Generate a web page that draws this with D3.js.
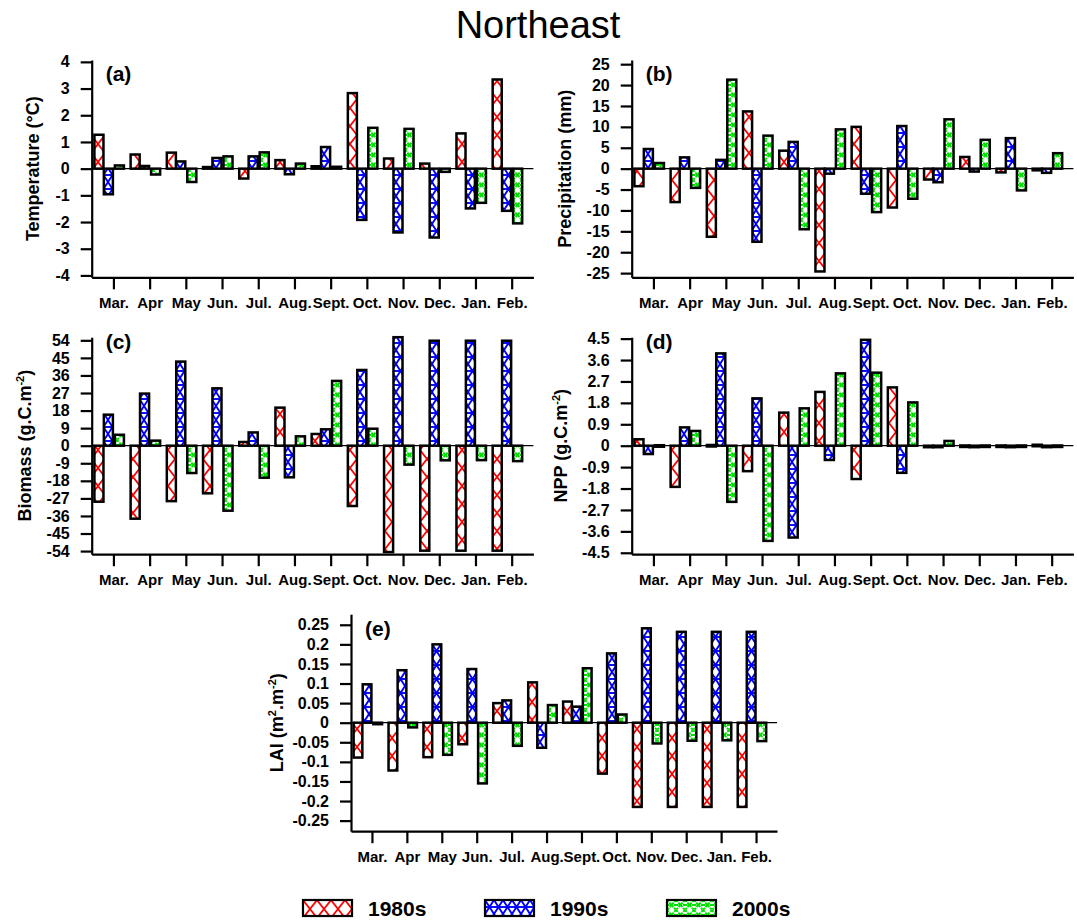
<!DOCTYPE html>
<html>
<head>
<meta charset="utf-8">
<script src="https://cdn.jsdelivr.net/npm/d3@7"></script>
<style>
  body { margin: 0; background: #fff; }
  svg { display: block; }
  text { font-family: "Liberation Sans", Arial, Helvetica, sans-serif; }
</style>
</head>
<body>
<svg id="chart" width="1077" height="921"></svg>
<script>
// month categories and decades
var months = ["Mar.", "Apr", "May", "Jun.", "Jul.", "Aug.", "Sept.", "Oct.", "Nov.", "Dec.", "Jan.", "Feb."];
var decades = ["1980s", "1990s", "2000s"];

// (a) temperature anomaly (°C)
var temp1980s = [1.27, 0.53, 0.6, 0.06, -0.37, 0.32, 0.09, 2.83, 0.38, 0.19, 1.32, 3.34];
var temp1990s = [-0.96, 0.1, 0.27, 0.4, 0.46, -0.21, 0.81, -1.92, -2.39, -2.58, -1.49, -1.58];
var temp2000s = [0.12, -0.22, -0.5, 0.46, 0.61, 0.19, 0.07, 1.53, 1.49, -0.12, -1.28, -2.05];

// (b) precipitation (mm)
var prec1980s = [-4.2, -8.0, -16.3, 13.7, 4.3, -24.6, 10.0, -9.3, -2.6, 2.8, -0.9, -0.4];
var prec1990s = [4.7, 2.7, 2.1, -17.5, 6.4, -1.2, -6.0, 10.2, -3.25, -0.7, 7.3, -1.0];
var prec2000s = [1.35, -4.6, 21.3, 7.9, -14.5, 9.4, -10.4, -7.2, 11.8, 6.9, -5.2, 3.7];

// (c) biomass (g.C.m-2)
var bio1980s = [-28.7, -37.4, -28.4, -24.4, 1.9, 19.5, 6.0, -30.9, -54.5, -53.8, -53.8, -53.8];
var bio1990s = [15.9, 26.7, 43.1, 29.4, 6.8, -16.2, 8.4, 38.8, 55.6, 53.8, 53.8, 53.8];
var bio2000s = [5.6, 2.6, -14.0, -33.3, -16.4, 4.8, 33.2, 8.7, -9.7, -7.5, -7.4, -7.9];

// (d) NPP (g.C.m-2)
var npp1980s = [0.27, -1.73, 0.03, -1.07, 1.39, 2.26, -1.4, 2.45, -0.01, 0.01, 0.01, 0.04];
var npp1990s = [-0.35, 0.77, 3.88, 1.99, -3.86, -0.6, 4.45, -1.14, -0.04, -0.01, -0.01, -0.02];
var npp2000s = [0.02, 0.62, -2.36, -4.0, 1.57, 3.04, 3.07, 1.82, 0.2, 0.01, 0.01, 0.01];

// (e) LAI (m2.m-2)
var lai1980s = [-0.089, -0.122, -0.088, -0.055, 0.05, 0.103, 0.054, -0.13, -0.215, -0.215, -0.215, -0.215];
var lai1990s = [0.098, 0.134, 0.2, 0.137, 0.057, -0.064, 0.041, 0.177, 0.241, 0.232, 0.232, 0.232];
var lai2000s = [-0.002, -0.012, -0.082, -0.155, -0.059, 0.045, 0.139, 0.021, -0.053, -0.046, -0.045, -0.047];

// tick labels
var tempTicks = [4, 3, 2, 1, 0, -1, -2, -3, -4];
var precTicks = [25, 20, 15, 10, 5, 0, -5, -10, -15, -20, -25];
var bioTicks = [54, 45, 36, 27, 18, 9, 0, -9, -18, -27, -36, -45, -54];
var nppTicks = [4.5, 3.6, 2.7, 1.8, 0.9, 0, -0.9, -1.8, -2.7, -3.6, -4.5];
var laiTicks = [0.25, 0.2, 0.15, 0.1, 0.05, 0, -0.05, -0.1, -0.15, -0.2, -0.25];

var svg = d3.select("#chart");
var defs = svg.append("defs");

// hatch patterns, one per decade
function addPattern(id, w, h, color, sw, paths, dash) {
    var p = defs.append("pattern")
        .attr("id", id)
        .attr("patternUnits", "userSpaceOnUse")
        .attr("width", w)
        .attr("height", h);
    p.append("rect").attr("width", w).attr("height", h).attr("fill", "#fff");
    paths.forEach(function (d) {
        p.append("path")
            .attr("d", d)
            .attr("stroke", color)
            .attr("stroke-width", sw)
            .attr("fill", "none")
            .attr("stroke-dasharray", dash || null);
    });
}
addPattern("pat0", 14, 18, "#ff0000", 1.7, ["M0,0L14,18M14,0L0,18"]);
addPattern("pat1", 9, 14, "#0000ff", 1.9, ["M0,0L9,14M9,0L0,14", "M0,7H9"]);
addPattern("pat2", 9, 10, "#00e000", 2, ["M0,0L9,10M9,0L0,10", "M0,5H9"], "2.5 1");
var patFill = ["url(#pat0)", "url(#pat1)", "url(#pat2)"];

svg.append("text")
    .attr("x", 538)
    .attr("y", 38)
    .attr("text-anchor", "middle")
    .attr("font-size", 38)
    .text("Northeast");

var panels = [
    { tag: "(a)", title: "Temperature (°C)", sup: null, data: [temp1980s, temp1990s, temp2000s], ticks: tempTicks, ymax: 4.07,
      left: 91.7, right: 533.4, top: 60, bottom: 277.3, titleOff: 53, tagY: 81 },
    { tag: "(b)", title: "Precipitation (mm)", sup: null, data: [prec1980s, prec1990s, prec2000s], ticks: precTicks, ymax: 26,
      left: 631.7, right: 1073.4, top: 60, bottom: 277.3, titleOff: 61, tagY: 81 },
    { tag: "(c)", title: "Biomass (g.C.m", sup: "-2", data: [bio1980s, bio1990s, bio2000s], ticks: bioTicks, ymax: 55.6,
      left: 91.7, right: 533.4, top: 337.2, bottom: 554.2, titleOff: 61, tagY: 349 },
    { tag: "(d)", title: "NPP (g.C.m", sup: "-2", data: [npp1980s, npp1990s, npp2000s], ticks: nppTicks, ymax: 4.56,
      left: 631.7, right: 1073.4, top: 337.2, bottom: 554.2, titleOff: 65, tagY: 349 },
    { tag: "(e)", title: "LAI (m", sup: "2", mid: ".m", sup2: "-2", data: [lai1980s, lai1990s, lai2000s], ticks: laiTicks, ymax: 0.277,
      left: 351, right: 777, top: 614.2, bottom: 831.2, titleOff: 68, tagY: 636 }
];

var offsets = [-0.4, -0.14, 0.165];
var barW = 0.25;

panels.forEach(function (cfg) {
    var x = d3.scaleLinear().domain([-0.6, 11.6]).range([cfg.left, cfg.right]);
    var y = d3.scaleLinear().domain([-cfg.ymax, cfg.ymax]).range([cfg.bottom, cfg.top]);
    var g = svg.append("g");

    // zero line
    g.append("line")
        .attr("x1", cfg.left).attr("x2", cfg.right)
        .attr("y1", y(0)).attr("y2", y(0))
        .attr("stroke", "#000").attr("stroke-width", 1.2);

    cfg.data.forEach(function (vals, s) {
        g.selectAll(".bar" + s)
            .data(vals)
            .enter()
            .append("rect")
            .attr("class", "bar" + s)
            .attr("x", function (d, i) { return x(i + offsets[s] - barW / 2); })
            .attr("width", x(barW) - x(0))
            .attr("y", function (d) { return Math.min(y(d), y(0)); })
            .attr("height", function (d) { return Math.max(Math.abs(y(d) - y(0)), 1.5); })
            .attr("fill", patFill[s])
            .attr("stroke", "#000")
            .attr("stroke-width", 2.5);
    });

    var yAxis = g.append("g")
        .attr("transform", "translate(" + cfg.left + ",0)")
        .call(d3.axisLeft(y).tickValues(cfg.ticks).tickSize(11).tickSizeOuter(0).tickPadding(11)
            .tickFormat(function (d) { return String(d); }));

    var xAxis = g.append("g")
        .attr("transform", "translate(0," + cfg.bottom + ")")
        .call(d3.axisBottom(x).tickValues(d3.range(12)).tickSize(12).tickSizeOuter(0).tickPadding(8)
            .tickFormat(function (i) { return months[i]; }));

    [yAxis, xAxis].forEach(function (ax, k) {
        ax.attr("font-family", null).attr("font-size", null);
        ax.select(".domain").attr("stroke-width", 2.2);
        ax.selectAll(".tick line").attr("stroke-width", 2.2);
        ax.selectAll(".tick text")
            .attr("font-size", k == 0 ? 16 : 15)
            .attr("font-weight", "bold")
            .attr("fill", "#000");
    });

    // axis title
    var cy = (cfg.top + cfg.bottom) / 2;
    var t = g.append("text")
        .attr("transform", "translate(" + (cfg.left - cfg.titleOff) + "," + cy + ") rotate(-90)")
        .attr("text-anchor", "middle")
        .attr("font-size", 18)
        .attr("font-weight", "bold");
    t.append("tspan").text(cfg.title);
    if (cfg.sup) {
        t.append("tspan").attr("dy", -7).attr("font-size", 11).text(cfg.sup);
        if (cfg.mid) {
            t.append("tspan").attr("dy", 7).text(cfg.mid);
            t.append("tspan").attr("dy", -7).attr("font-size", 11).text(cfg.sup2);
        }
        t.append("tspan").attr("dy", 7).text(")");
    }

    g.append("text")
        .attr("x", cfg.left + 14)
        .attr("y", cfg.tagY)
        .attr("font-size", 21)
        .attr("font-weight", "bold")
        .text(cfg.tag);
});

// legend
var legendX = [303, 485, 667];
var leg = svg.append("g").selectAll("g")
    .data(decades)
    .enter()
    .append("g")
    .attr("transform", function (d, i) { return "translate(" + legendX[i] + ",900)"; });
leg.append("rect")
    .attr("width", 49).attr("height", 16)
    .attr("fill", function (d, i) { return patFill[i]; })
    .attr("stroke", "#000").attr("stroke-width", 2.2);
leg.append("text")
    .attr("x", 65).attr("y", 16)
    .attr("font-size", 21)
    .attr("font-weight", "bold")
    .text(function (d) { return d; });
</script>
</body>
</html>
